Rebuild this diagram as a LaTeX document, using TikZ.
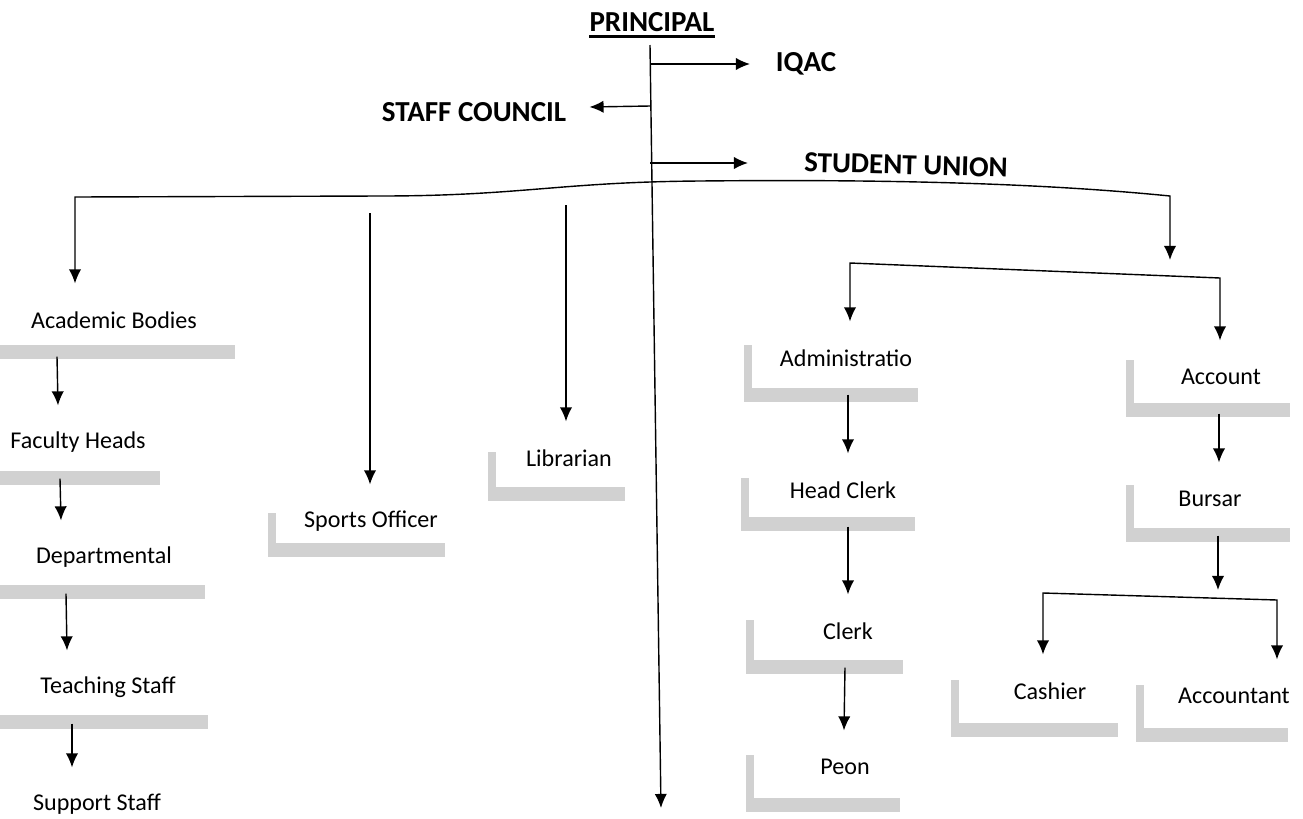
\documentclass[tikz,border=0pt]{standalone}
\usepackage{fontspec}
\setmainfont{Carlito}
\usepackage{tikz}
\usetikzlibrary{arrows.meta, positioning}
\tikzstyle{arrow} = [line width=0.8pt,->,>={Latex[length=8pt,width=7pt]}]
\tikzstyle{head} = [font=\fontsize{16.5}{19}\selectfont\bfseries, inner sep=0pt]
\tikzstyle{post} = [font=\fontsize{13.7}{16}\selectfont, minimum height=1.45cm, inner sep=0pt]
\tikzstyle{shadowbar} = [black!18]

\begin{document}
\begin{tikzpicture}[x=0.02cm, y=-0.02cm]
    \useasboundingbox (0,0) rectangle (1303,819);

    % grey shading under the posts
    \fill[shadowbar] (0,345) rectangle (235,359);
    \fill[shadowbar] (0,471) rectangle (160,485);
    \fill[shadowbar] (0,585) rectangle (205,599);
    \fill[shadowbar] (0,715) rectangle (208,729);
    \foreach \xa/\ya/\xb/\yb in {272/513/445/550, 492/452/625/494, 748/345/918/395,
            745/478/915/524, 750/620/903/667, 750/755/900/805, 1130/360/1290/410,
            1130/485/1290/535, 955/680/1118/730, 1140/685/1288/735}{
        \fill[shadowbar] (\xa-4,\ya) rectangle (\xa+4,\yb+7);
        \fill[shadowbar] (\xa-4,\yb-7) rectangle (\xb,\yb+7);
    }

    \node (principal) [head] at (652,22) {PRINCIPAL};
    \draw[line width=1.4pt] ([yshift=-3pt]principal.base west) -- ([yshift=-3pt]principal.base east);
    \node (iqac) [head] at (806,64) {IQAC};
    \node (staff) [head] at (474,112) {STAFF COUNCIL};
    \node (union) [head, rotate=-1.5] at (906,165) {STUDENT UNION};
    \coordinate (ptop) at (650,45);
    \coordinate (pbot) at (661,808);
    \draw[arrow] (ptop) -- (pbot);
    \draw[arrow] (iqac -| ptop) -- (iqac -| 750,0);
    \draw[arrow] ([yshift=0.12cm]staff.east -| ptop) -- ([xshift=0.46cm,yshift=0.1cm]staff.east);
    \draw[arrow] ([yshift=0.04cm]union -| ptop) -- ([yshift=0.04cm]union -| 748,0);

    \node (academic) [post] at (114,320) {Academic Bodies};
    \node (faculty) [post] at (78,442) {Faculty Heads};
    \node (department) [post] at (104,557) {Departmental};
    \node (teaching) [post] at (108,687) {Teaching Staff};
    \node (support) [post] at (97,804) {Support Staff};
    \node (sports) [post] at (371,521) {Sports Officer};
    \node (librarian) [post] at (569,458) {Librarian};
    \node (admin) [post] at (846,358) {Administratio};
    \node (headclerk) [post] at (843,490) {Head Clerk};
    \node (clerk) [post] at (848,631) {Clerk};
    \node (peon) [post] at (845,767) {Peon};
    \node (account) [post] at (1221,377) {Account};
    \node (bursar) [post] at (1210,499) {Bursar};
    \node (cashier) [post] at (1050,691) {Cashier};
    \node (accountant) [post] at (1234,696) {Accountant};

    \coordinate (acadtop) at (75,197);
    \coordinate (offtop) at (1170,196);
    \coordinate (offend) at (1170,260);
    \coordinate (sportstop) at (370,213);
    \coordinate (librarytop) at (566,205);
    \draw[arrow, <->] (academic.north -| acadtop) -- (acadtop) -- (380,196)
        .. controls (520,196) and (560,182) .. (700,181)
        .. controls (900,179) and (1050,184) .. (offtop) -- (offend);
    \draw[arrow] (sportstop) -- (sports.north -| sportstop);
    \draw[arrow] (librarytop) -- (librarian.north -| librarytop);

    \draw[arrow] (academic.south -| 57,0) -- (faculty.north -| 58,0);
    \draw[arrow] (faculty.south -| 60,0) -- (department.north -| 61,0);
    \draw[arrow] (department.south -| 66,0) -- (teaching.north -| 67,0);
    \draw[arrow] (teaching.south -| 72,0) -- (support.north -| 72,0);

    \draw[arrow, <->] (admin.north -| 850,0) -- (850,263) -- (1220,278) -- (account.north -| 1220,0);
    \draw[arrow] (admin.south -| 848,0) -- (headclerk.north -| 848,0);
    \draw[arrow] (headclerk.south -| 848,0) -- (clerk.north -| 848,0);
    \draw[arrow] (clerk.south -| 845,0) -- (peon.north -| 844,0);
    \draw[arrow] (account.south -| 1219,0) -- (bursar.north -| 1219,0);
    \draw[arrow] (bursar.south -| 1218,0) -- (1218,590);
    \draw[arrow, <->] (cashier.north -| 1043,0) -- (1043,593) -- (1277,600) -- (accountant.north -| 1277,0);
\end{tikzpicture}
\end{document}
